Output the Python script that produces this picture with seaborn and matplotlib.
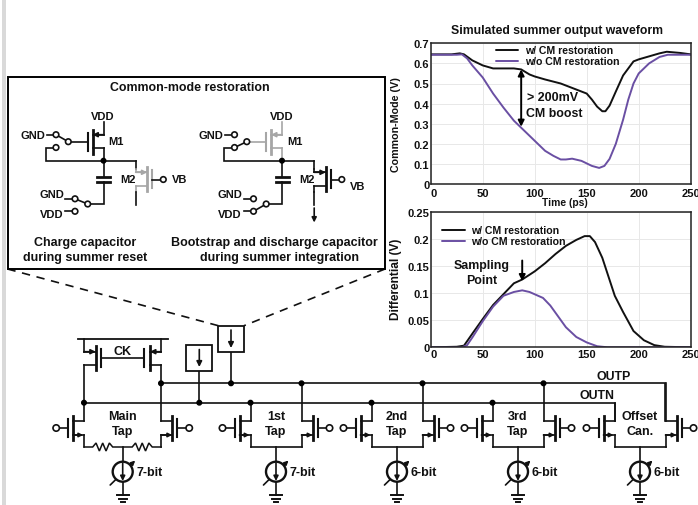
import numpy as np
import pandas as pd
import matplotlib.pyplot as plt
import seaborn as sns
from matplotlib.patches import Circle, Rectangle

sns.set_theme(style='whitegrid')
plt.rcParams['font.family'] = ['Liberation Sans', 'DejaVu Sans']
plt.rcParams['font.weight'] = 'bold'

BLACK = '#111111'
PURPLE = '#6a4fa3'
GRAY = '#a6a6a6'
LABELS = ['w/ CM restoration', 'w/o CM restoration']

# Common-mode waveform (ps, V)
cm_t_on = [0, 20, 28, 32, 40, 50, 60, 70, 80, 87, 95, 100, 110, 125, 140, 150, 155, 160, 165, 168,
           172, 178, 185, 190, 195, 200, 210, 220, 227, 240, 250]
cm_v_on = [.645, .645, .65, .645, .615, .59, .575, .575, .575, .57, .545, .535, .52, .50, .47, .45,
           .42, .385, .362, .362, .39, .46, .54, .575, .61, .62, .635, .65, .658, .652, .645]
cm_t_off = [0, 25, 30, 35, 40, 50, 60, 70, 80, 87, 95, 100, 110, 118, 125, 130, 136, 145, 155, 162,
            167, 172, 178, 185, 190, 195, 200, 210, 220, 228, 250]
cm_v_off = [.643, .643, .645, .625, .59, .53, .45, .38, .315, .28, .24, .215, .165, .14, .122, .122,
            .126, .115, .09, .08, .09, .125, .2, .32, .42, .5, .55, .6, .632, .643, .643]

# Differential waveform (ps, V)
diff_t_on = [0, 25, 32, 40, 50, 60, 70, 80, 88, 100, 110, 120, 130, 140, 148, 153, 158, 165, 177,
             185, 195, 205, 215, 225, 250]
diff_v_on = [0, .001, .003, .025, .052, .078, .098, .118, .125, .14, .155, .172, .187, .198, .205,
             .205, .194, .165, .095, .065, .03, .013, .004, .001, 0]
diff_t_off = [0, 30, 35, 40, 50, 60, 70, 80, 88, 95, 108, 115, 121, 130, 140, 150, 160, 170, 250]
diff_v_off = [0, 0, .004, .018, .048, .075, .095, .102, .105, .102, .091, .077, .061, .037, .019,
              .009, .002, 0, 0]

cm_ticks = [0, .1, .2, .3, .4, .5, .6, .7]
cm_ticklabels = ['0', '0.1', '0.2', '0.3', '0.4', '0.5', '0.6', '0.7']
diff_ticks = [0, .05, .1, .15, .2, .25]
diff_ticklabels = ['0', '0.05', '0.1', '0.15', '0.2', '0.25']
time_ticks = [0, 50, 100, 150, 200, 250]


def frame(t_on, v_on, t_off, v_off):
    on = pd.DataFrame({'t': t_on, 'v': v_on, 'case': LABELS[0]})
    off = pd.DataFrame({'t': t_off, 'v': v_off, 'case': LABELS[1]})
    return pd.concat([on, off], ignore_index=True)


W, H = 698, 506
fig = plt.figure(figsize=(W / 100, H / 100), dpi=100, facecolor='white')


def px_axes(x0, y0, x1, y1):
    return fig.add_axes([x0 / W, 1 - y1 / H, (x1 - x0) / W, (y1 - y0) / H])


def wave_axes(box, df, ymax, ticks, ticklabels, ylabel, label_size, label_at, legend_at, xpad):
    ax = px_axes(*box)
    sns.lineplot(data=df, x='t', y='v', hue='case', palette=[BLACK, PURPLE], estimator=None,
                 sort=False, linewidth=1.4, ax=ax)
    ax.set_xlim(0, 250)
    ax.set_ylim(0, ymax)
    ax.set_xticks(time_ticks)
    ax.set_yticks(ticks)
    ax.set_yticklabels(ticklabels)
    ax.grid(True, color='#e8e8e8', linewidth=0.7)
    for s in ax.spines.values():
        s.set_color('#222222')
        s.set_linewidth(1.1)
    ax.tick_params(labelsize=8, pad=1, length=0, colors='#111111')
    ax.tick_params(axis='x', pad=xpad)
    # the zero label sits just right of the corner
    ax.get_xticklabels()[0].set_ha('left')
    ax.set_xlabel('')
    ax.set_ylabel(ylabel, fontsize=label_size, fontweight='bold', color='#111111')
    ax.yaxis.set_label_coords(*label_at)
    ax.legend(loc='upper left', bbox_to_anchor=legend_at, frameon=False, fontsize=7.6, title=None,
              labelspacing=0.1, handlelength=2.1, handletextpad=0.65, borderpad=0, borderaxespad=0,
              labelcolor='#111111')
    return ax


ax1 = wave_axes((430.7, 44.3, 690.7, 185), frame(cm_t_on, cm_v_on, cm_t_off, cm_v_off), .7,
                cm_ticks, cm_ticklabels, 'Common-Mode (V)', 7.7, (-0.114, 0.433), (0.25, 0.985), 3)
ax2 = wave_axes((430.7, 212.7, 690.7, 348.3), frame(diff_t_on, diff_v_on, diff_t_off, diff_v_off), .25,
                diff_ticks, diff_ticklabels, 'Differential (V)', 8.6, (-0.11, 0.507), (0.045, 0.90), 1)
arrow = dict(arrowstyle='<|-|>', color='black', lw=1.4, mutation_scale=9, shrinkA=0, shrinkB=0)
ax1.annotate('', xy=(87, .57), xytext=(87, .285), arrowprops=arrow)
ax2.annotate('', xy=(88, .122), xytext=(88, .16),
             arrowprops=dict(arrowstyle='-|>', color='black', lw=1.4, mutation_scale=9, shrinkA=0, shrinkB=0))

# full figure overlay in pixel coordinates for the schematic
sch = fig.add_axes([0, 0, 1, 1], facecolor='none')
sch.set_xlim(0, W)
sch.set_ylim(H, 0)
sch.axis('off')
LW = 1.2


def wire(xs, ys, c=BLACK, lw=LW, z=3):
    sch.plot(xs, ys, color=c, lw=lw, solid_capstyle='projecting', solid_joinstyle='miter', zorder=z)


def txt(x, y, s, size=8):
    sch.text(x, y, s, ha='center', va='center', fontsize=size, fontweight='bold', color='#111111', zorder=7)


def dot(x, y):
    sch.add_patch(Circle((x, y), 2.3, color='black', zorder=6))


def node(x, y, r=2.8):
    sch.add_patch(Circle((x, y), r, fc='white', ec=BLACK, lw=LW, zorder=6))


def head(x0, y0, x1, y1, c=BLACK, scale=7, z=6):
    sch.annotate('', xy=(x1, y1), xytext=(x0, y0),
                 arrowprops=dict(arrowstyle='-|>', color=c, lw=LW, mutation_scale=scale, shrinkA=0, shrinkB=0),
                 zorder=z)


def mos(gate_x, chan_x, term_x, ym, yt, yb, arrow_y, c=BLACK):
    # gate bar, channel bar and two terminal stubs; arrow marks the source side
    wire([gate_x, gate_x], [ym - 9, ym + 9], c, 1.5)
    wire([chan_x, chan_x], [ym - 12, ym + 12], c, 2.0)
    wire([chan_x, term_x], [yt, yt], c)
    wire([chan_x, term_x], [yb, yb], c)
    head(term_x, arrow_y, chan_x, arrow_y, c)


# left margin bar, box and zoom lines
sch.add_patch(Rectangle((2.3, 0), 3.7, H, color='#d9d9d9', lw=0, zorder=1))
sch.add_patch(Rectangle((7.5, 78), 377.5, 192, fc='none', ec='black', lw=1.4, zorder=4))
sch.plot([7.5, 218.3], [270, 326.7], color=BLACK, lw=1.2, ls=(0, (5, 4)))
sch.plot([385, 244], [270, 326.7], color=BLACK, lw=1.2, ls=(0, (5, 4)))

txt(190, 88, 'Common-mode restoration', 8.9)
txt(85, 243, 'Charge capacitor', 9)
txt(85, 258, 'during summer reset', 9)
txt(274, 243, 'Bootstrap and discharge capacitor', 9)
txt(279, 258, 'during summer integration', 9)


def restoration(dx, m1_col, m2_col, gnd_closed):
    xn = 103.5 + dx
    txt(xn - .5, 116.7, 'VDD', 8)
    txt(116 + dx, 142, 'M1', 8)
    # M1
    wire([xn, xn], [123, 135.7], m1_col)
    mos(87.5 + dx, 92.5 + dx, xn, 142.5, 135.7, 149, 135.7, m1_col)
    wire([xn, xn], [149, 161.7], m1_col)
    # gate switch
    txt(32.5 + dx, 135.5, 'GND', 8)
    wire([46.5 + dx, 53.5 + dx], [135.7, 135.7])
    node(56 + dx, 135.7)
    node(56 + dx, 148.5)
    node(68.3 + dx, 142.7)
    wire([70.7 + dx, 87.5 + dx], [142.7, 142.7], m1_col)
    if gnd_closed:
        wire([56 + dx, 68.3 + dx], [135.7, 142.7])
    else:
        wire([56 + dx, 68.3 + dx], [148.5, 142.7])
    # feedback and node
    wire([53.6 + dx, 45.7 + dx, 45.7 + dx, 135.7 + dx], [148.5, 148.5, 161.7, 161.7])
    dot(xn, 161.7)
    # capacitor and bottom switch
    wire([xn, xn], [161.7, 178])
    wire([xn - 6.5, xn + 6.5], [178, 178], BLACK, 2.0)
    wire([xn - 6.5, xn + 6.5], [182.7, 182.7], BLACK, 2.0)
    wire([xn, xn, 90 + dx], [182.7, 205, 205])
    node(87.7 + dx, 205)
    node(75 + dx, 199.8)
    node(75 + dx, 212.3)
    wire([65 + dx, 72.6 + dx], [199.8, 199.8])
    wire([65 + dx, 72.6 + dx], [212.3, 212.3])
    if gnd_closed:
        wire([75 + dx, 87.7 + dx], [199.8, 205])
    else:
        wire([75 + dx, 87.7 + dx], [212.3, 205])
    txt(51.7 + dx, 195, 'GND', 8)
    txt(51.7 + dx, 215, 'VDD', 8)
    # M2
    xt = 135.7 + dx
    wire([xt, xt], [161.7, 170])
    wire([xt, xt], [170, 173.3], m2_col)
    mos(152.3 + dx, 147.3 + dx, xt, 180.3, 173.3, 187, 173.3, m2_col)
    wire([xt, xt], [187, 192.5], m2_col)
    wire([xt, xt], [192.5, 206])
    wire([152.3 + dx, 161 + dx], [180.5, 180.5])
    node(163.3 + dx, 180.5)
    txt(128 + dx, 180, 'M2', 8)


restoration(0, BLACK, GRAY, True)
restoration(178.5, GRAY, BLACK, False)
txt(179.3, 180.3, 'VB', 8)
txt(357.7, 186.7, 'VB', 8)
head(314.2, 209, 314.2, 223.5)

# differential summer tail stage
OUTP_Y, OUTN_Y = 384.3, 403.7
TOP_Y, TAIL_Y = 422, 448


def cell(xc, half, left_net, right_net, label, bits, resistors=False):
    xl, xr = xc - half, xc + half
    # left device
    wire([xl - 16, xl - 16], [420, 438], BLACK, 1.5)
    wire([xl - 11, xl - 11], [417, 441], BLACK, 2.0)
    wire([xl - 11, xl], [TOP_Y, TOP_Y])
    wire([xl - 11, xl], [436, 436])
    head(xl - 11, 436, xl - 1, 436, scale=6)
    wire([xl - 25, xl - 16], [429, 429])
    node(xl - 28, 429, 3.2)
    # right device
    wire([xr + 16, xr + 16], [420, 438], BLACK, 1.5)
    wire([xr + 11, xr + 11], [417, 441], BLACK, 2.0)
    wire([xr + 11, xr], [TOP_Y, TOP_Y])
    wire([xr + 11, xr], [436, 436])
    head(xr, 436, xr + 11, 436, scale=6)
    wire([xr + 16, xr + 25], [429, 429])
    node(xr + 28, 429, 3.2)
    # nets
    wire([xl, xl], [left_net, TOP_Y])
    wire([xr, xr], [right_net, TOP_Y])
    wire([xl, xl], [436, TAIL_Y])
    wire([xr, xr], [436, TAIL_Y])
    if resistors:
        rx = [xc - 30 + i * 20 / 6 for i in range(7)]
        ry = [TAIL_Y + (0 if i in (0, 6) else (-4 if i % 2 else 4)) for i in range(7)]
        wire([xl] + rx + [xc, xc + 9.5] + [x + 39.5 for x in rx[1:]] + [xr],
             [TAIL_Y] + ry + [TAIL_Y, TAIL_Y] + ry[1:] + [TAIL_Y], BLACK, 1.1)
    else:
        wire([xl, xr], [TAIL_Y, TAIL_Y])
    # current source and ground
    wire([xc, xc], [TAIL_Y, 462.5])
    head(xc - 12.5, 486, xc + 12.5, 461.5, scale=6, z=3)
    sch.add_patch(Circle((xc, 472.7), 10, fc='white', ec=BLACK, lw=1.7, zorder=4))
    head(xc, 464, xc, 482, scale=7)
    wire([xc, xc], [482.7, 496])
    wire([xc - 6, xc + 6], [496, 496], BLACK, 1.4)
    wire([xc - 4, xc + 4], [499.5, 499.5], BLACK, 1.4)
    wire([xc - 2, xc + 2], [503, 503], BLACK, 1.4)
    txt(xc + 27, 473, bits, 9)
    txt(xc, 417.5, label[0], 9)
    txt(xc, 432.5, label[1], 9)


cell(122.7, 38.5, OUTN_Y, OUTP_Y, ('Main', 'Tap'), '7-bit', resistors=True)
cell(276, 25.5, OUTN_Y, OUTP_Y, ('1st', 'Tap'), '7-bit')
cell(397, 25.5, OUTN_Y, OUTP_Y, ('2nd', 'Tap'), '6-bit')
cell(518, 25.5, OUTN_Y, OUTP_Y, ('3rd', 'Tap'), '6-bit')
cell(640, 25.5, OUTN_Y, OUTP_Y, ('Offset', 'Can.'), '6-bit')

# output buses
wire([161, 665, 665], [OUTP_Y, OUTP_Y, TOP_Y])
wire([84, 614.5, 614.5], [OUTN_Y, OUTN_Y, TOP_Y])
for x in [161, 231, 301.5, 422.5, 543.5]:
    dot(x, OUTP_Y)
for x in [84, 199.3, 250.5, 371.5, 492.5]:
    dot(x, OUTN_Y)
txt(614, 377.5, 'OUTP', 8.9)
txt(597, 396.5, 'OUTN', 8.9)

# clocked load devices
wire([78, 167.7], [340, 340], BLACK, 1.3)
mos(100.7, 95.7, 84, 359, 352.7, 365.7, 352.7)
mos(144, 150, 161, 359, 352.7, 365.7, 352.7)
wire([84, 84], [340, 352.7])
wire([161, 161], [340, 352.7])
wire([84, 84], [365.7, OUTN_Y])
wire([161, 161], [365.7, OUTP_Y])
wire([100.7, 144], [358.7, 358.7])
txt(122.7, 352, 'CK', 9)

# switch boxes
sch.add_patch(Rectangle((218.3, 326.7), 25.7, 26, fc='white', ec=BLACK, lw=1.3, zorder=4))
sch.add_patch(Rectangle((186.3, 346), 26, 25.7, fc='white', ec=BLACK, lw=1.3, zorder=4))
head(231, 331, 231, 349, scale=8)
head(199.3, 350.5, 199.3, 368, scale=8)
wire([231, 231], [352.7, OUTP_Y])
wire([199.3, 199.3], [371.7, OUTN_Y])

# chart texts
txt(556.7, 31, 'Simulated summer output waveform', 8.85)
txt(564.5, 203, 'Time (ps)', 7.4)
txt(553, 98, '> 200mV', 9)
txt(554, 113.5, 'CM boost', 8.9)
txt(481.7, 266.5, 'Sampling', 8.9)
txt(482, 281.5, 'Point', 8.9)

fig.savefig('out.png', dpi=100)
